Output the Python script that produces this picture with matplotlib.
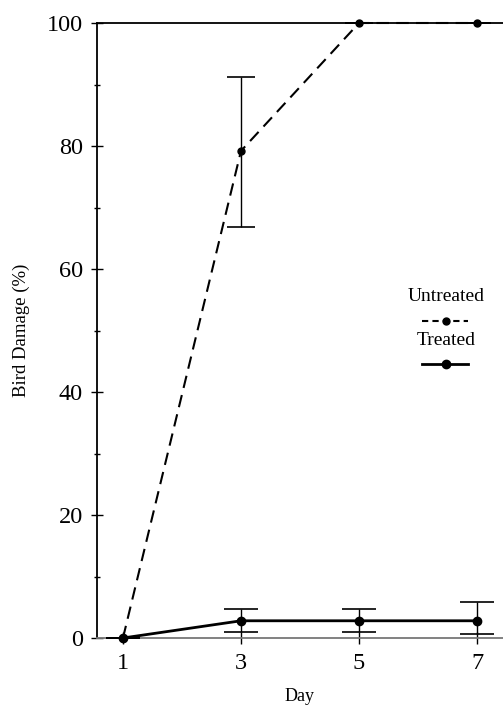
import numpy as np
import matplotlib
matplotlib.use("Agg")
import matplotlib.pyplot as plt
from matplotlib.ticker import MultipleLocator

# Bird damage over days, untreated vs treated
days = [1, 3, 5, 7]
untreated = [0, 79.2, 100, 100]
untreated_err_low = [0, 12.4, 0, 0]
untreated_err_high = [0, 12.1, 0, 0]
treated = [0, 2.8, 2.8, 2.8]
treated_err_low = [0, 1.9, 1.9, 2.2]
treated_err_high = [0, 1.9, 1.9, 3.1]

plt.rcParams['font.family'] = ['Liberation Serif', 'DejaVu Serif']

fig = plt.figure(figsize=(5.03, 7.08), dpi=100)
ax = fig.add_axes([97 / 503, 70 / 708, 406 / 503, 615 / 708])

ax.errorbar(days, untreated, yerr=[untreated_err_low, untreated_err_high],
            color="black", lw=1.5, dashes=(6, 3.5), marker="o", markersize=5,
            ecolor="black", elinewidth=1, capsize=10, capthick=1.2, clip_on=False, zorder=3)
ax.errorbar(days, treated, yerr=[treated_err_low, treated_err_high],
            color="black", lw=2, linestyle="-", marker="o", markersize=6,
            ecolor="black", elinewidth=1, capsize=12, capthick=1.2, clip_on=False, zorder=3)

ax.set_xlim(0.56, 7.44)
ax.set_ylim(0, 100)
ax.set_xticks(days)
ax.yaxis.set_major_locator(MultipleLocator(20))
ax.yaxis.set_minor_locator(MultipleLocator(10))
ax.tick_params(axis="y", which="major", direction="inout", length=8, width=1, labelsize=17.5, pad=6)
ax.tick_params(axis="y", which="minor", direction="inout", length=5, width=1)
ax.tick_params(axis="x", which="major", direction="inout", length=8, width=1, labelsize=17.5, pad=7)

ax.spines["right"].set_visible(False)
ax.spines["top"].set_linewidth(1.3)
ax.spines["left"].set_linewidth(1.3)
ax.spines["bottom"].set_color("#777777")
ax.spines["bottom"].set_linewidth(1.3)

ax.set_xlabel("Day", fontsize=13, labelpad=10)
ax.set_ylabel("Bird Damage (%)", fontsize=13.5, labelpad=12)

# legend drawn as stacked label / sample line
ax.text(0.86, 0.555, "Untreated", transform=ax.transAxes, ha="center", va="center", fontsize=14)
ax.plot([0.80, 0.915], [0.516, 0.516], transform=ax.transAxes, color="black", lw=1.5,
        dashes=(3, 2), clip_on=False)
ax.plot([0.86], [0.516], transform=ax.transAxes, color="black", marker="o", markersize=5)
ax.text(0.86, 0.484, "Treated", transform=ax.transAxes, ha="center", va="center", fontsize=14)
ax.plot([0.80, 0.915], [0.446, 0.446], transform=ax.transAxes, color="black", lw=2)
ax.plot([0.86], [0.446], transform=ax.transAxes, color="black", marker="o", markersize=6)

plt.savefig("out.png", dpi=100)
